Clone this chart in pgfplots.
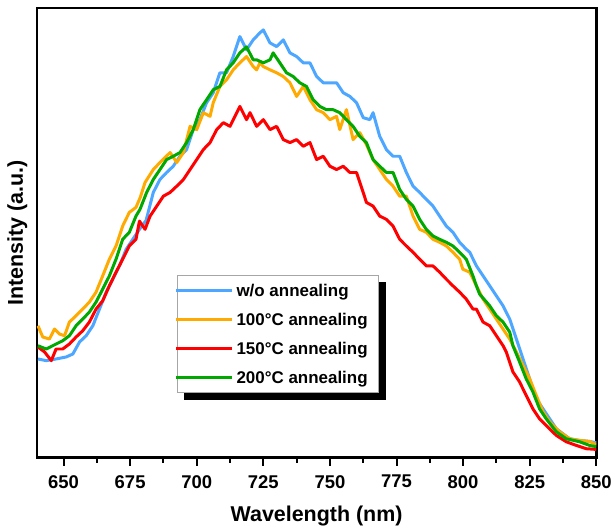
\documentclass[border=0pt]{standalone}
\usepackage{pgfplots}
\pgfplotsset{compat=1.18}
\usepackage{fontspec}
\setmainfont{Liberation Sans}

\definecolor{cblue}{RGB}{77,166,255}
\definecolor{corange}{RGB}{255,170,0}
\definecolor{cred}{RGB}{255,0,0}
\definecolor{cgreen}{RGB}{0,168,0}

% intensity in a.u.
\pgfplotstableread{
x y
640.4 99
643.5 97.3
647.2 99
651.0 101
653.5 104
656.0 116
658.5 122.3
661.0 132.3
663.5 149
666.0 166
668.5 179
671.0 192.3
673.5 209
676.0 219
678.5 229
681.0 238
683.7 266
686.2 279
688.7 286
691.2 292.3
693.7 302.3
696.2 309
698.7 329
701.2 339
703.7 356
706.2 366
708.7 386
711.2 386
713.7 402.3
716.2 422.3
718.7 409
721.2 419
723.7 426
725.0 429
727.5 416
730.0 412.3
732.5 419
735.0 406
737.5 402.3
740.0 396
742.5 396
745.0 382.3
747.5 376
750.0 376
752.5 376
755.0 366
757.5 362.3
760.0 356
762.5 341
765.0 339
766.2 346
768.7 322.3
771.2 309
773.7 302.3
776.2 302.3
778.7 286
781.2 272.3
783.7 266
786.2 259
788.7 252.3
791.2 242.3
793.7 232.3
796.2 226
798.7 216
801.2 209
802.5 206
805.0 192.3
807.5 182.3
810.0 172.3
812.5 162.3
815.0 152.3
817.5 139
820.0 119
822.5 99
825.0 79
827.5 59
830.0 49
832.5 39
835.0 29
837.5 24
840.0 19
843.7 17.3
847.5 16.3
850.0 15
}\tblue

\pgfplotstableread{
x y
640.4 132.3
642.2 121
644.7 119
646.6 129
648.5 124
650.4 122.3
652.2 136
654.7 142.3
657.2 149
659.7 156
662.2 166
664.7 182.3
667.2 199
669.7 212.3
672.2 232.3
674.7 246
677.2 251
678.8 261
680.6 276
683.7 289
686.2 296
690.0 306
692.5 296
695.0 306
697.5 332.3
700.0 329
702.5 346
705.0 342.3
706.2 356
708.7 372.3
711.2 379
713.7 389
716.2 396
718.7 402.3
721.2 392.3
722.5 389
723.7 396
725.0 392.3
727.5 389
730.0 386
732.5 382.3
735.0 376
737.5 362.3
740.0 372.3
742.5 359
745.0 349
747.5 346
750.0 339
752.5 342.3
753.7 329
756.2 349
758.7 319
761.2 326
763.7 314
766.2 299
768.7 289
771.2 279
773.7 272.3
776.2 262.3
778.7 262.3
781.2 242.3
783.7 229
786.2 226
788.7 219
791.2 216
793.7 212.3
796.2 206
798.7 199
799.9 189
802.5 186
805.0 172.3
807.5 159
810.0 149
812.5 139
815.0 129
817.5 119
820.0 106
822.5 92.3
825.0 79
827.5 62.3
830.0 46
832.5 36
836.2 26
840.0 19
843.7 17.3
847.5 16.3
850.0 13
}\torange

\pgfplotstableread{
x y
640.4 111
642.9 106
645.4 97.3
647.2 109
649.7 109
652.2 114
654.7 121
657.2 127.3
659.7 136
662.2 149
664.7 157.3
667.2 172.3
669.7 186
672.2 199
674.7 212.3
677.2 219
678.5 237.3
680.6 229
682.5 242.3
685.0 252.3
687.5 262.3
690.0 266
692.5 272.3
695.0 279
697.5 289
700.0 299
702.5 309
705.0 316
707.5 329
710.0 336
712.5 332.3
716.2 352.3
718.7 339
720.0 346
722.5 332.3
725.0 339
727.5 329
730.0 332.3
732.5 319
735.0 316
737.5 319
740.0 312.3
742.5 316
745.0 299
747.5 302.3
750.0 292.3
752.5 289
755.0 292.3
757.5 286
760.0 286
762.5 266
763.7 256
766.2 252.3
768.7 242.3
771.2 239
773.7 232.3
776.2 219
778.7 212.3
781.2 206
783.7 199
786.2 192.3
788.7 192.3
791.2 186
793.7 179
796.2 172.3
798.7 166
801.2 159
803.7 149
805.0 149
807.5 136
810.0 132.3
812.5 122.3
815.0 112.3
816.2 106
818.7 86
821.2 76
823.7 62.3
826.2 49
828.7 39
831.2 32.3
835.0 22.3
838.7 16
842.5 12.3
846.2 9
850.0 8.3
}\tred

\pgfplotstableread{
x y
640.4 112.3
643.5 109
647.2 114
649.7 117.3
652.2 122.3
654.7 132.3
657.2 139
659.7 146
662.2 156
664.7 169
667.2 182.3
669.7 199
672.2 219
674.7 226
677.2 242.3
678.7 249
681.2 266
683.7 279
686.2 289
688.7 299
691.2 302.3
693.7 306
696.2 316
698.7 329
701.2 349
703.7 359
706.2 369
708.7 372.3
711.2 389
713.7 396
716.2 406
718.7 412
721.2 399
722.5 399
725.0 396
727.5 399
728.7 406
731.2 396
733.7 386
736.2 382.3
738.7 376
741.2 372.3
743.7 359
746.2 352.3
748.7 349
751.2 349
753.7 346
756.2 339
758.7 332.3
761.2 322.3
763.7 316
766.2 299
768.7 292.3
771.2 286
773.7 286
776.2 269
778.7 259
781.2 252.3
783.7 239
786.2 229
788.7 222.3
791.2 219
793.7 216
796.2 212.3
798.7 206
801.2 199
803.7 182.3
805.0 172.3
806.2 164
810.0 152.3
812.5 142.3
815.0 136
817.5 126
818.7 112.3
821.2 96
823.7 79
826.2 66
828.7 49
831.2 39
835.0 26
838.7 19
843.7 16
847.5 12.3
850.0 11
}\tgreen

\begin{document}
\begin{tikzpicture}
\begin{axis}[
    name=main,
    scale only axis,
    width=561pt, height=451pt,
    xmin=640, xmax=850, ymin=0, ymax=451,
    axis line style={line width=2.6pt},
    xtick={650,675,...,850},
    minor x tick num=1,
    xtick pos=lower,
    tick align=outside,
    major tick length=8pt,
    minor tick length=5pt,
    every tick/.style={black, line width=2pt},
    ytick=\empty,
    /pgf/number format/assume math mode=true,
    ticklabel style={font=\fontsize{18.5}{20}\selectfont\bfseries},
    xticklabel style={yshift=-6pt},
    xlabel={Wavelength (nm)},
    ylabel={Intensity (a.u.)},
    label style={font=\fontsize{21.5}{24}\selectfont\bfseries},
    xlabel style={yshift=-11pt},
    ylabel style={yshift=-2pt},
    legend cell align=left,
    legend style={
        name=leg,
        at={(0.251,0.406)}, anchor=north west,
        draw=black!35, line width=0.8pt, fill=white,
        font=\fontsize{17}{19}\selectfont\bfseries,
        inner xsep=8pt, inner ysep=8pt,
        row sep=15pt,
        nodes={inner xsep=3pt, inner ysep=1pt, text height=12pt, text depth=0pt},
    },
    legend image code/.code={
        \draw[#1, line width=3pt] (0pt,0pt) -- (45pt,0pt);
        \draw[#1, line width=3pt, overlay] (0pt,0pt) -- (-11pt,0pt);},
    every axis plot/.append style={line width=3pt, line join=round},
]
\addplot[cblue] table {\tblue};
\addplot[corange] table {\torange};
\addplot[cred] table {\tred};
\addplot[cgreen] table {\tgreen};
\legend{w/o annealing, 100°C annealing, 150°C annealing, 200°C annealing}
\end{axis}
% legend shadow
\fill[black] ([yshift=-7pt]leg.north east) rectangle ([xshift=7pt,yshift=-7pt]leg.south east);
\fill[black] ([xshift=7pt]leg.south west) rectangle ([xshift=7pt,yshift=-7pt]leg.south east);
% page frame as in the reference
\path ([xshift=-37pt,yshift=8pt]main.north west) rectangle ([xshift=17pt,yshift=-64pt]main.south east);
\end{tikzpicture}
\end{document}
